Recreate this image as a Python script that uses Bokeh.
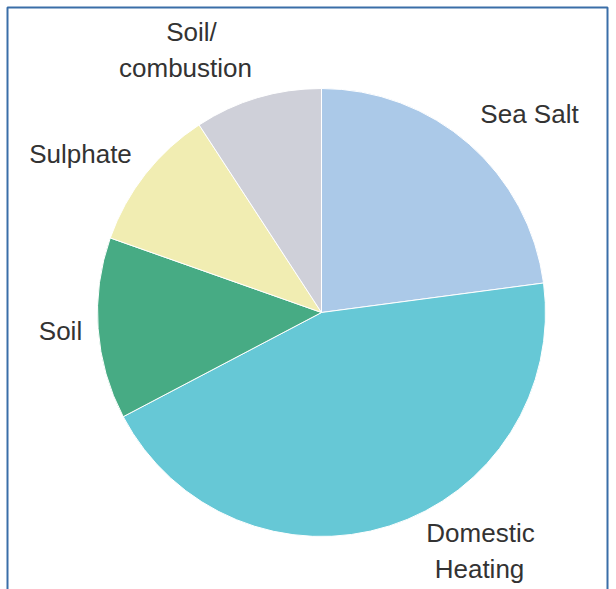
import math
from bokeh.plotting import figure
from bokeh.models import Range1d, ColumnDataSource
from bokeh.core.properties import value
from bokeh.embed import file_html
from bokeh.resources import INLINE

# ---- data ----
categories = ["Sea Salt", "Domestic Heating", "Soil", "Sulphate", "Soil/combustion"]
shares = [22.9, 44.4, 13.1, 10.4, 9.2]
colors = ["#abc9e8", "#66c8d6", "#47ab84", "#f1edb2", "#cfd0d9"]

# label lines (text) and their anchor positions (layout, in pixels from top-left)
label_lines = ["Sea Salt", "Domestic", "Heating", "Soil", "Sulphate", "Soil/", "combustion"]
label_pos_px = [(529, 113), (480, 532), (479, 568), (60, 330), (80, 153), (191, 31), (185, 67)]

W, H = 616, 589
CX, CY, R = 321, 312, 224  # pie centre / radius in pixels

p = figure(width=W, height=H, output_backend="svg", toolbar_location=None,
           x_axis_type=None, y_axis_type=None, min_border=0,
           x_range=Range1d(0, W), y_range=Range1d(0, H))
p.outline_line_color = None
p.grid.visible = False
p.background_fill_color = "white"

total = sum(shares)
starts, ends = [], []
cum = 0.0
for s in shares:
    a0 = math.pi / 2 - 2 * math.pi * (cum + s) / total
    a1 = math.pi / 2 - 2 * math.pi * cum / total
    starts.append(a0)
    ends.append(a1)
    cum += s

src = ColumnDataSource(dict(cat=categories, start=starts, end=ends, color=colors))
p.wedge(x=CX, y=H - CY, radius=R, start_angle="start", end_angle="end",
        direction="anticlock", fill_color="color", line_color="white",
        line_width=1, source=src)

# frame
p.quad(left=[7], right=[607], top=[H - 7], bottom=[-20], fill_color=None,
       line_color="#3a6ea8", line_width=2)

p.text(x=[q[0] for q in label_pos_px], y=[H - q[1] for q in label_pos_px],
       text=label_lines, text_align="center", text_baseline="middle",
       text_font=value("Liberation Sans"), text_font_size="26px",
       text_color="#333333")

open("out.html", "w").write(file_html(p, INLINE))
